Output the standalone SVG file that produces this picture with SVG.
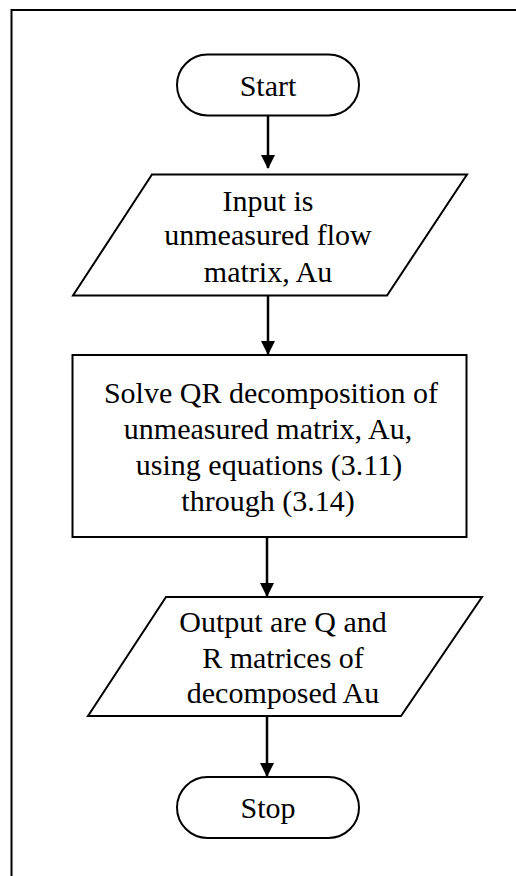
<svg xmlns="http://www.w3.org/2000/svg" width="516" height="876" viewBox="0 0 516 876">
<defs>
<marker id="arr" markerWidth="14" markerHeight="16" refX="13" refY="7" orient="auto" markerUnits="userSpaceOnUse" viewBox="0 0 14 14">
<path d="M0,0 L14,7 L0,14 Z" fill="#000"/>
</marker>
<style>
.shape{fill:#fff;stroke:#000;stroke-width:2}
.t{font-family:'Liberation Serif','DejaVu Serif',serif;font-size:30px;fill:#000;text-anchor:middle}
.c{stroke:#000;stroke-width:2.5;fill:none}
</style>
</defs>
<rect width="516" height="876" fill="#fff"/>
<path d="M11.5,876 V10 H516" fill="none" stroke="#000" stroke-width="2"/>
<g id="connectors">
<line class="c" x1="268" y1="115" x2="268" y2="168" marker-end="url(#arr)"/>
<line class="c" x1="268" y1="296" x2="268" y2="354" marker-end="url(#arr)"/>
<line class="c" x1="267" y1="537" x2="267" y2="596" marker-end="url(#arr)"/>
<line class="c" x1="267" y1="716" x2="267" y2="776" marker-end="url(#arr)"/>
</g>
<g id="start">
<rect class="shape" x="177" y="54.5" width="182" height="61" rx="30.5"/>
<text class="t" x="268" y="96">Start</text>
</g>
<g id="input">
<polygon class="shape" points="152,174.5 467,174.5 387,295.5 73,295.5"/>
<text class="t" x="268" y="211">Input is</text>
<text class="t" x="268" y="245">unmeasured flow</text>
<text class="t" x="268" y="282">matrix, Au</text>
</g>
<g id="solve">
<rect class="shape" x="72.5" y="355" width="394" height="182"/>
<text class="t" x="271" y="403">Solve QR decomposition of</text>
<text class="t" x="268" y="439">unmeasured matrix, Au,</text>
<text class="t" x="269" y="475">using equations (3.11)</text>
<text class="t" x="268" y="511">through (3.14)</text>
</g>
<g id="output">
<polygon class="shape" points="166,597 482,597 401,716 88,716"/>
<text class="t" x="283" y="632">Output are Q and</text>
<text class="t" x="283" y="668">R matrices of</text>
<text class="t" x="283" y="703">decomposed Au</text>
</g>
<g id="stop">
<rect class="shape" x="177" y="777" width="182" height="61" rx="30.5"/>
<text class="t" x="268" y="818">Stop</text>
</g>
</svg>
